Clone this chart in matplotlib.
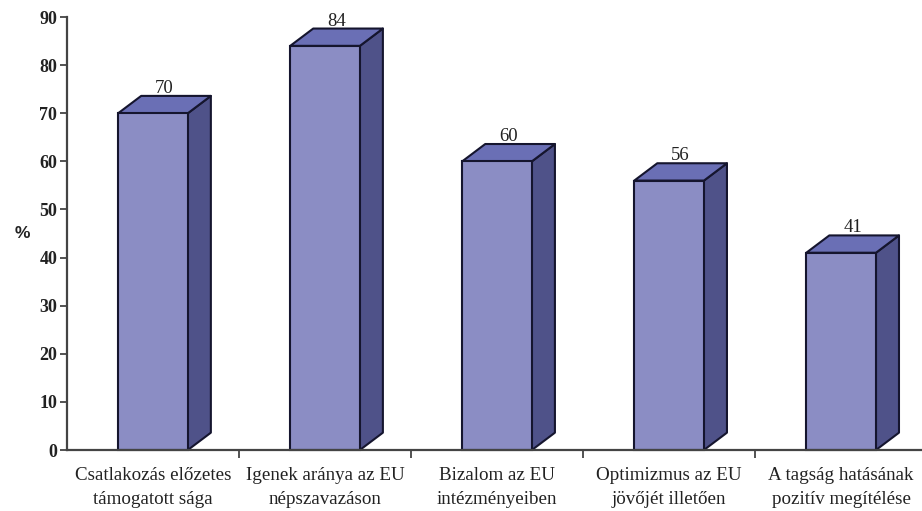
import matplotlib
matplotlib.use("Agg")
import matplotlib.pyplot as plt
from matplotlib.patches import Polygon

categories = ["Csatlakozás előzetes\ntámogatott sága", "Igenek aránya az EU\nnépszavazáson",
              "Bizalom az EU\nintézményeiben", "Optimizmus az EU\njövőjét illetően",
              "A tagság hatásának\npozitív megítélése"]
values = [70, 84, 60, 56, 41]
yticks = list(range(0, 100, 10))

plt.rcParams['font.family'] = ['Liberation Serif', 'DejaVu Serif']
W, H = 922, 511
fig = plt.figure(figsize=(W / 100, H / 100), dpi=100)
ax = fig.add_axes([67 / W, (H - 450) / H, (W - 67) / W, (450 - 17) / H])
ax.set_xlim(-0.5, 4.47)
ax.set_ylim(0, 90)
ax.patch.set_alpha(0)

FRONT, SIDE, TOP, EDGE = "#8B8DC4", "#4F5289", "#6A6FB5", "#15152E"
bw = 0.405
dx = 23 / 172
dy = 3.6
xs = list(range(len(values)))
ax.bar(xs, values, width=bw, color=FRONT, edgecolor=EDGE, linewidth=1.5, zorder=3, clip_on=False)
for x, v in zip(xs, values):
    l, r = x - bw / 2, x + bw / 2
    ax.add_patch(Polygon([(r, 0), (r + dx, dy), (r + dx, v + dy), (r, v)], closed=True,
                         fc=SIDE, ec=EDGE, lw=1.5, zorder=2, joinstyle='round'))
    ax.add_patch(Polygon([(l, v), (l + dx, v + dy), (r + dx, v + dy), (r, v)], closed=True,
                         fc=TOP, ec=EDGE, lw=1.5, zorder=2, joinstyle='round'))
    ax.text(x + dx / 2, v + dy - 0.2, str(v), ha='center', va='bottom', fontsize=13.5, color="#222222")

for s in ("top", "right"):
    ax.spines[s].set_visible(False)
for s in ("left", "bottom"):
    ax.spines[s].set_color("#444444")
    ax.spines[s].set_linewidth(1.6)
    ax.spines[s].set_zorder(4)

ax.set_yticks(yticks)
ax.tick_params(axis='y', length=5, width=1.3, color="#444444", labelsize=13, pad=2, labelcolor="#222222")
for t in ax.get_yticklabels():
    t.set_fontweight('bold')
ax.set_xticks([0.5, 1.5, 2.5, 3.5])
ax.set_xticklabels([])
ax.tick_params(axis='x', length=6, width=1.3, color="#444444")
for x, c in zip(xs, categories):
    ax.annotate(c, (x, 0), xytext=(0, -17), textcoords='offset pixels', ha='center', va='top',
                fontsize=13.7, color="#222222", linespacing=1.55, annotation_clip=False)
fig.text(22 / W, (H - 233) / H, "%", ha='center', va='center', fontsize=12.5, fontweight='bold',
         family=['Liberation Sans', 'DejaVu Sans'], color="#222222")
fig.savefig("out.png", dpi=100)
